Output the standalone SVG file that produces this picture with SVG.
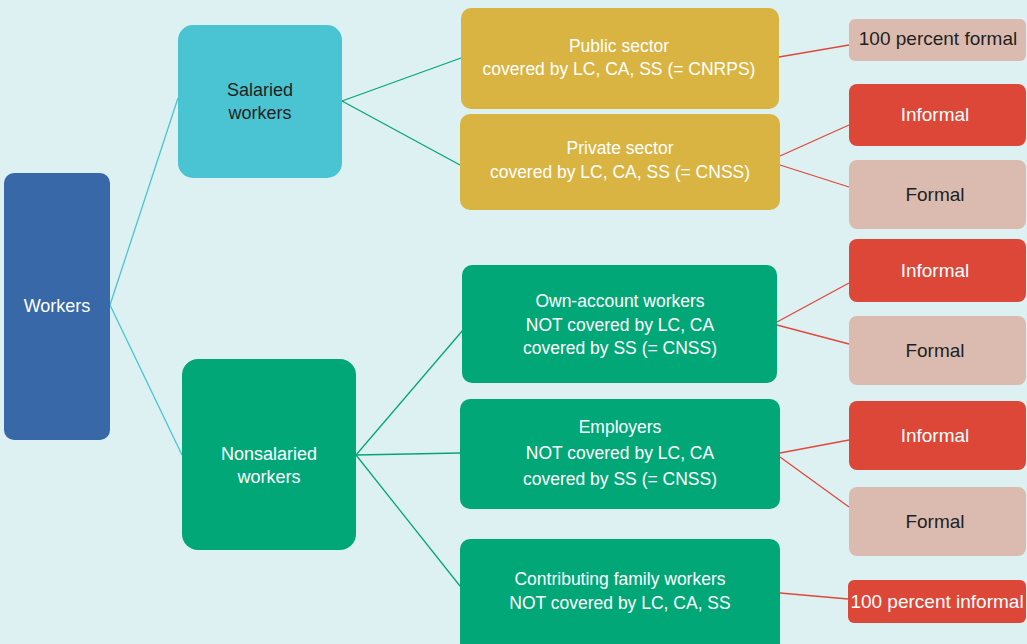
<svg xmlns="http://www.w3.org/2000/svg" width="1027" height="644" viewBox="0 0 1027 644">
<style>
text{font-family:"Liberation Sans",Arial,sans-serif;text-anchor:middle}
.w{fill:#ffffff}
.d{fill:#231f20}
.s17{font-size:17.5px}
.s18{font-size:18px}
.s19{font-size:19px}
.blue{fill:#3868a8}
.cyan{fill:#4ac4d2}
.green{fill:#02a777}
.gold{fill:#d9b443}
.red{fill:#dd4738}
.pink{fill:#dbbbb0}
.lc{stroke:#4ac4d2;stroke-width:1.3;fill:none}
.lg{stroke:#05a57a;stroke-width:1.3;fill:none}
.lr{stroke:#e0483a;stroke-width:1.3;fill:none}
</style>
<rect x="0" y="0" width="1027" height="644" fill="#ddf1f3"/>
<g id="connectors">
<line class="lc" x1="110" y1="305" x2="178" y2="98"/>
<line class="lc" x1="110" y1="305" x2="182" y2="455"/>
<line class="lg" x1="342" y1="101" x2="461" y2="58"/>
<line class="lg" x1="342" y1="101" x2="460" y2="165"/>
<line class="lg" x1="356" y1="455" x2="463" y2="330"/>
<line class="lg" x1="356" y1="455" x2="460" y2="453"/>
<line class="lg" x1="356" y1="455" x2="460" y2="586"/>
<line class="lr" x1="779" y1="57" x2="849" y2="45"/>
<line class="lr" x1="780" y1="156" x2="849" y2="125"/>
<line class="lr" x1="780" y1="165" x2="849" y2="187"/>
<line class="lr" x1="777" y1="322" x2="849" y2="283"/>
<line class="lr" x1="777" y1="325" x2="849" y2="344"/>
<line class="lr" x1="780" y1="453" x2="849" y2="440"/>
<line class="lr" x1="780" y1="457" x2="849" y2="507"/>
<line class="lr" x1="780" y1="593" x2="848" y2="599"/>
</g>
<g id="workers">
<rect class="blue" x="4" y="173" width="106" height="267" rx="10"/>
<text class="w s18" x="57" y="312">Workers</text>
</g>
<g id="salaried">
<rect class="cyan" x="178" y="25" width="164" height="153" rx="15"/>
<text class="d s18" x="260" y="96">Salaried</text>
<text class="d s18" x="260" y="119">workers</text>
</g>
<g id="nonsalaried">
<rect class="green" x="182" y="359" width="174" height="191" rx="16"/>
<text class="w s18" x="269" y="460">Nonsalaried</text>
<text class="w s18" x="269" y="483">workers</text>
</g>
<g id="public">
<rect class="gold" x="461" y="8" width="318" height="101" rx="10"/>
<text class="w s17" x="619" y="52">Public sector</text>
<text class="w s17" x="619" y="75">covered by LC, CA, SS (= CNRPS)</text>
</g>
<g id="private">
<rect class="gold" x="460" y="114" width="320" height="96" rx="10"/>
<text class="w s17" x="620" y="154">Private sector</text>
<text class="w s17" x="620" y="178">covered by LC, CA, SS (= CNSS)</text>
</g>
<g id="own-account">
<rect class="green" x="462" y="265" width="315" height="118" rx="10"/>
<text class="w s17" x="620" y="307">Own-account workers</text>
<text class="w s17" x="620" y="331">NOT covered by LC, CA</text>
<text class="w s17" x="620" y="354">covered by SS (= CNSS)</text>
</g>
<g id="employers">
<rect class="green" x="460" y="399" width="320" height="110" rx="10"/>
<text class="w s17" x="620" y="433">Employers</text>
<text class="w s17" x="620" y="459">NOT covered by LC, CA</text>
<text class="w s17" x="620" y="485">covered by SS (= CNSS)</text>
</g>
<g id="contributing">
<rect class="green" x="460" y="539" width="320" height="115" rx="10"/>
<text class="w s17" x="620" y="585">Contributing family workers</text>
<text class="w s17" x="620" y="609">NOT covered by LC, CA, SS</text>
</g>
<g id="formal-public">
<rect class="pink" x="849" y="19" width="177" height="42" rx="6"/>
<text class="d s19" x="938" y="45">100 percent formal</text>
</g>
<g id="informal-private">
<rect class="red" x="849" y="84" width="177" height="62" rx="8"/>
<text class="w s19" x="935" y="121">Informal</text>
</g>
<g id="formal-private">
<rect class="pink" x="849" y="160" width="177" height="69" rx="8"/>
<text class="d s19" x="935" y="201">Formal</text>
</g>
<g id="informal-own">
<rect class="red" x="849" y="239" width="177" height="63" rx="8"/>
<text class="w s19" x="935" y="277">Informal</text>
</g>
<g id="formal-own">
<rect class="pink" x="849" y="316" width="177" height="69" rx="8"/>
<text class="d s19" x="935" y="357">Formal</text>
</g>
<g id="informal-employers">
<rect class="red" x="849" y="401" width="177" height="69" rx="8"/>
<text class="w s19" x="935" y="442">Informal</text>
</g>
<g id="formal-employers">
<rect class="pink" x="849" y="487" width="177" height="69" rx="8"/>
<text class="d s19" x="935" y="528">Formal</text>
</g>
<g id="informal-contributing">
<rect class="red" x="848" y="580" width="178" height="43" rx="6"/>
<text class="w s19" x="937" y="608">100 percent informal</text>
</g>
</svg>
